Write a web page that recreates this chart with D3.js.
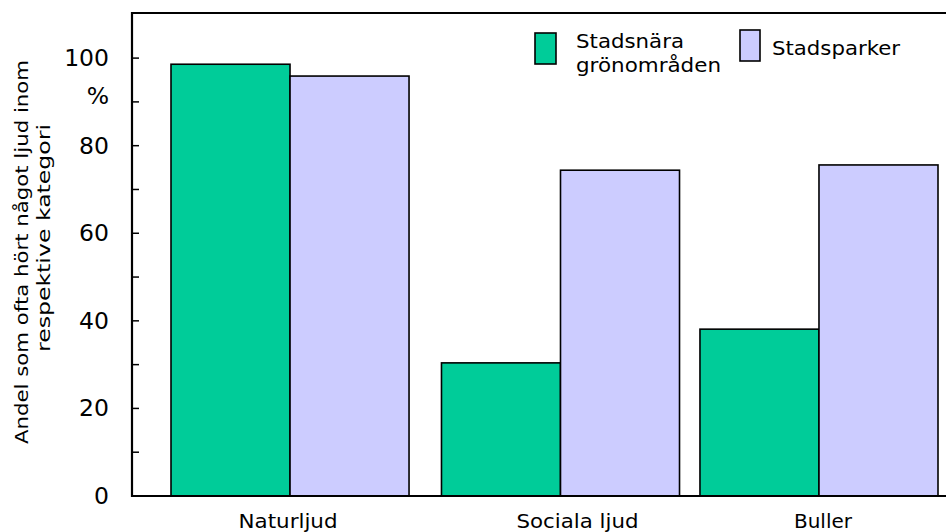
<!DOCTYPE html>
<html><head><meta charset="utf-8">
<script src="https://cdn.jsdelivr.net/npm/d3@7"></script>
<style>body{margin:0;background:#fff}svg{display:block}text{font-family:"DejaVu Sans",Verdana,sans-serif}</style>
</head><body><svg id="c" width="946" height="532"></svg>
<script>
const categories = ["Naturljud", "Sociala ljud", "Buller"];
const seriesNames = ["Stadsnära grönområden", "Stadsparker"];
const gronomraden = [98.6, 30.4, 38.1];
const stadsparker = [95.9, 74.4, 75.6];
const yTicks = [0, 20, 40, 60, 80, 100];
const colors = ["#00CC99", "#CCCCFF"];

const svg = d3.select("#c");
const x0 = 132, yBottom = 496, yTop = 13;
const y = d3.scaleLinear().domain([0, 110.3]).range([yBottom, yTop]);
const xb = d3.scaleBand().domain(categories).range([171, 938]).paddingInner(0.1).paddingOuter(0);
const xs = d3.scaleBand().domain([0, 1]).range([0, xb.bandwidth()]);
const series = [gronomraden, stadsparker];

// bars
series.forEach((vals, si) => {
  svg.append("g").selectAll("rect").data(vals).join("rect")
    .attr("x", (d, i) => xb(categories[i]) + xs(si) + (i === 1 ? 6 : 0))
    .attr("y", d => y(d))
    .attr("width", xs.bandwidth())
    .attr("height", d => yBottom - y(d))
    .attr("fill", colors[si]).attr("stroke", "#000").attr("stroke-width", 1.6);
});

// frame
svg.append("path").attr("d", `M946,${yTop}H${x0}V${yBottom}H946`).attr("fill", "none").attr("stroke", "#000").attr("stroke-width", 2.2);

// y axis ticks
const minor = d3.range(10, 110, 20);
svg.append("g").selectAll("line").data(yTicks.concat(minor)).join("line")
  .attr("x1", x0).attr("x2", x0 + 7).attr("y1", d => y(d)).attr("y2", d => y(d))
  .attr("stroke", "#000").attr("stroke-width", 1.5);
svg.append("g").selectAll("text").data(yTicks).join("text")
  .attr("x", 109).attr("y", d => y(d) + 8).attr("text-anchor", "end")
  .attr("font-size", 23.5).text(d => d);
svg.append("text").attr("x", 109).attr("y", 104).attr("text-anchor", "end").attr("font-size", 23.5).text("%");

// y title
svg.append("text").attr("transform", "translate(28,252) rotate(-90)").attr("text-anchor", "middle")
  .attr("font-size", 18).attr("textLength", 384).attr("lengthAdjust", "spacingAndGlyphs")
  .text("Andel som ofta hört något ljud inom");
svg.append("text").attr("transform", "translate(50,238) rotate(-90)").attr("text-anchor", "middle")
  .attr("font-size", 18).attr("textLength", 228).attr("lengthAdjust", "spacingAndGlyphs")
  .text("respektive kategori");

// category labels
const catOffsets = [-2, 23, 4];
const catLens = [99, 122, 58];
svg.append("g").selectAll("text").data(categories).join("text")
  .attr("x", (d, i) => xb(d) + xb.bandwidth() / 2 + catOffsets[i])
  .attr("y", 528).attr("text-anchor", "middle").attr("font-size", 20)
  .attr("textLength", (d, i) => catLens[i]).attr("lengthAdjust", "spacingAndGlyphs").text(d => d);

// legend
svg.append("rect").attr("x", 535).attr("y", 33).attr("width", 21).attr("height", 31).attr("fill", colors[0]).attr("stroke", "#000").attr("stroke-width", 1.6);
svg.append("rect").attr("x", 740).attr("y", 30).attr("width", 20).attr("height", 31).attr("fill", colors[1]).attr("stroke", "#000").attr("stroke-width", 1.6);
svg.append("text").attr("x", 576).attr("y", 48).attr("font-size", 20)
  .attr("textLength", 108).attr("lengthAdjust", "spacingAndGlyphs").text("Stadsnära");
svg.append("text").attr("x", 576).attr("y", 72).attr("font-size", 20)
  .attr("textLength", 145).attr("lengthAdjust", "spacingAndGlyphs").text("grönområden");
svg.append("text").attr("x", 772).attr("y", 55).attr("font-size", 20)
  .attr("textLength", 128).attr("lengthAdjust", "spacingAndGlyphs").text(seriesNames[1]);
</script></body></html>
